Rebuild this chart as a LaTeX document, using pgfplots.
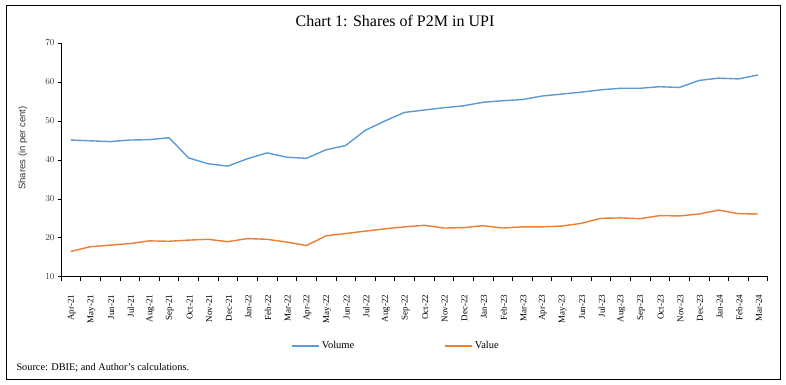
\documentclass[border=0pt]{standalone}
\usepackage{pgfplots}
\pgfplotsset{compat=1.18}
\usepackage{pgfplotstable}
\usepackage{fontspec}
\setmainfont{Liberation Serif}
\newfontfamily\sansf{Liberation Sans}
\definecolor{volblue}{HTML}{5B9BD5}
\definecolor{valorange}{HTML}{ED7D31}
\pgfplotstableread{
x vol val
0 45.1 16.5
1 44.9 17.7
2 44.7 18.1
3 45.1 18.5
4 45.2 19.2
5 45.7 19.1
6 40.5 19.4
7 39.0 19.6
8 38.4 19.0
9 40.3 19.8
10 41.8 19.6
11 40.7 18.9
12 40.4 18.0
13 42.6 20.5
14 43.7 21.1
15 47.6 21.7
16 50.0 22.3
17 52.2 22.8
18 52.8 23.2
19 53.4 22.5
20 53.9 22.6
21 54.8 23.1
22 55.2 22.5
23 55.5 22.8
24 56.4 22.8
25 56.9 23.0
26 57.4 23.7
27 58.0 25.0
28 58.4 25.1
29 58.4 24.9
30 58.8 25.7
31 58.6 25.6
32 60.4 26.1
33 61.0 27.1
34 60.8 26.2
35 61.8 26.1
}\datatable
\begin{document}
\begin{tikzpicture}
\path[use as bounding box] (0bp,0bp) rectangle (786bp,385bp);
\draw[line width=0.8bp] (6bp,6bp) rectangle (780bp,380bp);
\node[font=\fontsize{16bp}{18bp}\selectfont] at (395bp,364bp) {Chart 1: Shares of P2M in UPI};
\node[anchor=west,font=\fontsize{10.3bp}{12bp}\selectfont] at (13bp,17bp) {Source: DBIE; and Author's calculations.};
\node[rotate=90,font=\sansf\fontsize{9.5bp}{11bp}\selectfont, text=black!80] at (23bp,237bp) {Shares (in per cent)};
\begin{axis}[
  at={(61bp,108.3bp)}, anchor=south west,
  scale only axis, width=706.7bp, height=233.6bp,
  xmin=-0.5, xmax=35.5, ymin=10, ymax=70,
  axis x line=bottom, axis y line=left,
  axis line style={-, line width=0.8bp, black},
  xtick={0,...,35},
  xticklabels={Apr-21,May-21,Jun-21,Jul-21,Aug-21,Sep-21,Oct-21,Nov-21,Dec-21,Jan-22,Feb-22,Mar-22,Apr-22,May-22,Jun-22,Jul-22,Aug-22,Sep-22,Oct-22,Nov-22,Dec-22,Jan-23,Feb-23,Mar-23,Apr-23,May-23,Jun-23,Jul-23,Aug-23,Sep-23,Oct-23,Nov-23,Dec-23,Jan-24,Feb-24,Mar-24},
  minor xtick={-0.5,0.5,...,35.5},
  ytick={10,20,...,70},
  tick align=outside,
  x tick style={draw=none},
  minor x tick style={draw=black, line width=0.6bp},
  minor tick length=4bp,
  y tick style={black, line width=0.6bp},
  major tick length=3bp,
  xticklabel style={rotate=90, anchor=east, font=\fontsize{9bp}{10bp}\selectfont, inner sep=1bp, xshift=-14bp, yshift=-1bp},
  yticklabel style={font=\sansf\fontsize{9bp}{10bp}\selectfont, text=black!80},
  legend columns=2,
  legend style={at={(0.474,-0.297)}, anchor=center, draw=none, fill=none,
    font=\fontsize{10.5bp}{12bp}\selectfont,
    /tikz/every even column/.append style={column sep=88bp}},
  legend image code/.code={\draw[#1, line width=1.6bp] (0bp,0bp) -- (27bp,0bp);},
]
\addplot[volblue, line width=1.4bp] table[x=x, y=vol] {\datatable};
\addlegendentry{Volume}
\addplot[valorange, line width=1.4bp] table[x=x, y=val] {\datatable};
\addlegendentry{Value}
\end{axis}
\end{tikzpicture}
\end{document}
